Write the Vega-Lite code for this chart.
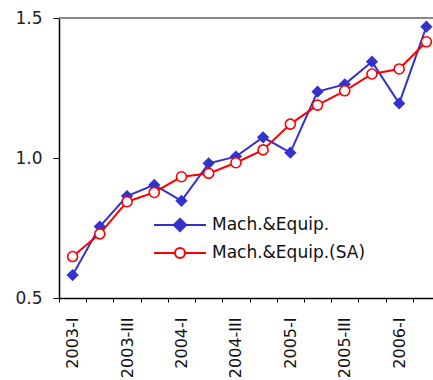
{
  "$schema": "https://vega.github.io/schema/vega-lite/v6.json",
  "autosize": {"type": "none"},
  "padding": {"left": 59, "top": 18, "right": 0, "bottom": 82},
  "width": 374,
  "height": 280,
  "background": "#ffffff",
  "config": {
    "view": {"stroke": null},
    "font": "DejaVu Sans"
  },
  "data": {
    "values": [
      {"quarter": "2003-I", "series": "Mach.&Equip.", "value": 0.582},
      {"quarter": "2003-II", "series": "Mach.&Equip.", "value": 0.755},
      {"quarter": "2003-III", "series": "Mach.&Equip.", "value": 0.864},
      {"quarter": "2003-IV", "series": "Mach.&Equip.", "value": 0.904},
      {"quarter": "2004-I", "series": "Mach.&Equip.", "value": 0.847},
      {"quarter": "2004-II", "series": "Mach.&Equip.", "value": 0.981},
      {"quarter": "2004-III", "series": "Mach.&Equip.", "value": 1.005},
      {"quarter": "2004-IV", "series": "Mach.&Equip.", "value": 1.074},
      {"quarter": "2005-I", "series": "Mach.&Equip.", "value": 1.019},
      {"quarter": "2005-II", "series": "Mach.&Equip.", "value": 1.237},
      {"quarter": "2005-III", "series": "Mach.&Equip.", "value": 1.263},
      {"quarter": "2005-IV", "series": "Mach.&Equip.", "value": 1.344},
      {"quarter": "2006-I", "series": "Mach.&Equip.", "value": 1.195},
      {"quarter": "2006-II", "series": "Mach.&Equip.", "value": 1.469},
      {"quarter": "2003-I", "series": "Mach.&Equip.(SA)", "value": 0.648},
      {"quarter": "2003-II", "series": "Mach.&Equip.(SA)", "value": 0.729},
      {"quarter": "2003-III", "series": "Mach.&Equip.(SA)", "value": 0.844},
      {"quarter": "2003-IV", "series": "Mach.&Equip.(SA)", "value": 0.877},
      {"quarter": "2004-I", "series": "Mach.&Equip.(SA)", "value": 0.933},
      {"quarter": "2004-II", "series": "Mach.&Equip.(SA)", "value": 0.945},
      {"quarter": "2004-III", "series": "Mach.&Equip.(SA)", "value": 0.983},
      {"quarter": "2004-IV", "series": "Mach.&Equip.(SA)", "value": 1.029},
      {"quarter": "2005-I", "series": "Mach.&Equip.(SA)", "value": 1.121},
      {"quarter": "2005-II", "series": "Mach.&Equip.(SA)", "value": 1.189},
      {"quarter": "2005-III", "series": "Mach.&Equip.(SA)", "value": 1.240},
      {"quarter": "2005-IV", "series": "Mach.&Equip.(SA)", "value": 1.300},
      {"quarter": "2006-I", "series": "Mach.&Equip.(SA)", "value": 1.318},
      {"quarter": "2006-II", "series": "Mach.&Equip.(SA)", "value": 1.415}
    ]
  },
  "encoding": {
    "x": {
      "field": "quarter",
      "type": "ordinal",
      "sort": null,
      "scale": {"range": [0, 381], "paddingInner": 0, "paddingOuter": 0},
      "axis": {
        "title": null,
        "tickBand": "extent",
        "labelAngle": 270,
        "labelFontSize": 16,
        "labelColor": "#111111",
        "labelPadding": 15,
        "labelExpr": "test(/-(I|III)$/, datum.value) ? datum.value : ''",
        "tickSize": 4,
        "tickColor": "#000000",
        "domainColor": "#000000",
        "domainWidth": 1.5,
        "grid": false
      }
    },
    "y": {
      "field": "value",
      "type": "quantitative",
      "scale": {"domain": [0.5, 1.5], "zero": false, "nice": false},
      "axis": {
        "title": null,
        "values": [0.5, 1.0, 1.5],
        "format": ".1f",
        "labelFontSize": 17,
        "labelColor": "#222222",
        "labelPadding": 11,
        "tickSize": 6,
        "tickColor": "#000000",
        "domainColor": "#000000",
        "domainWidth": 1.5,
        "grid": false
      }
    }
  },
  "layer": [
    {
      "mark": {"type": "rule", "color": "#888888", "strokeWidth": 1.5},
      "encoding": {"y": {"datum": 1.5}, "x": null}
    },
    {
      "mark": {"type": "line", "strokeWidth": 2},
      "encoding": {
        "color": {
          "field": "series",
          "type": "nominal",
          "scale": {"domain": ["Mach.&Equip.", "Mach.&Equip.(SA)"], "range": ["#3333CC", "#FF0000"]},
          "legend": {
            "title": null,
            "orient": "none",
            "legendX": 110,
            "legendY": 196,
            "padding": 0,
            "symbolSize": 400,
            "symbolStrokeWidth": 2,
            "labelFontSize": 17,
            "labelColor": "#111111",
            "labelOffset": 21,
            "rowPadding": 6,
            "encode": {
              "symbols": {
                "update": {
                  "shape": {"signal": "datum.value === 'Mach.&Equip.' ? 'M-2.6,0H2.6M0,-0.62L0.62,0L0,0.62L-0.62,0Z' : 'M-2.6,0H-0.5M0.5,0H2.6M0.5,0A0.5,0.5 0 1 1 -0.5,0A0.5,0.5 0 1 1 0.5,0'"},
                  "fill": {"signal": "datum.value === 'Mach.&Equip.' ? '#3333CC' : '#ffffff'"},
                  "stroke": {"signal": "datum.value === 'Mach.&Equip.' ? '#3333CC' : '#FF0000'"},
                  "strokeWidth": {"value": 2}
                }
              }
            }
          }
        }
      }
    },
    {
      "transform": [{"filter": "datum.series === 'Mach.&Equip.'"}],
      "mark": {"type": "point", "shape": "diamond", "filled": true, "color": "#3333CC", "size": 150, "opacity": 1}
    },
    {
      "transform": [{"filter": "datum.series === 'Mach.&Equip.(SA)'"}],
      "mark": {"type": "point", "shape": "circle", "filled": false, "fill": "#ffffff", "stroke": "#FF0000", "strokeWidth": 1.6, "size": 100, "opacity": 1}
    }
  ]
}
